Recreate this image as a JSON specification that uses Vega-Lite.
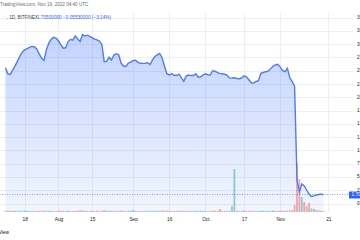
{
  "$schema": "https://vega.github.io/schema/vega-lite/v6.json",
  "width": 353,
  "height": 200,
  "autosize": {"type": "none"},
  "padding": {"top": 12, "left": 0, "right": 7, "bottom": 28},
  "background": "white",
  "config": {
    "view": {"stroke": null},
    "font": "Liberation Sans",
    "axis": {"gridColor": "#eceff5", "gridWidth": 1, "domain": false, "ticks": false, "tickSize": 0, "labelFontSize": 4.8, "labelColor": "#131722", "labelFont": "Liberation Sans", "labelFlush": false}
  },
  "title": {"text": "TradingView.com, Nov 19, 2022 04:40 UTC", "anchor": "start", "frame": "group", "fontSize": 4.6, "fontWeight": "normal", "color": "#6a6d78", "offset": 5.5, "font": "Liberation Sans"},
  "datasets": {
    "ftt": [
    {"d":"2022-07-10","p":25.56,"v":30,"dir":"up"},
    {"d":"2022-07-11","p":24.41,"v":35,"dir":"down"},
    {"d":"2022-07-12","p":24.31,"v":30,"dir":"down"},
    {"d":"2022-07-13","p":25.10,"v":30,"dir":"up"},
    {"d":"2022-07-14","p":25.91,"v":30,"dir":"up"},
    {"d":"2022-07-15","p":26.82,"v":35,"dir":"up"},
    {"d":"2022-07-16","p":27.76,"v":30,"dir":"up"},
    {"d":"2022-07-17","p":28.49,"v":30,"dir":"up"},
    {"d":"2022-07-18","p":28.95,"v":35,"dir":"up"},
    {"d":"2022-07-19","p":29.17,"v":30,"dir":"up"},
    {"d":"2022-07-20","p":29.40,"v":30,"dir":"up"},
    {"d":"2022-07-21","p":29.57,"v":25,"dir":"up"},
    {"d":"2022-07-22","p":29.53,"v":30,"dir":"down"},
    {"d":"2022-07-23","p":29.11,"v":25,"dir":"down"},
    {"d":"2022-07-24","p":28.17,"v":30,"dir":"down"},
    {"d":"2022-07-25","p":27.36,"v":35,"dir":"down"},
    {"d":"2022-07-26","p":26.93,"v":30,"dir":"down"},
    {"d":"2022-07-27","p":28.96,"v":35,"dir":"up"},
    {"d":"2022-07-28","p":30.19,"v":30,"dir":"up"},
    {"d":"2022-07-29","p":30.92,"v":30,"dir":"up"},
    {"d":"2022-07-30","p":31.28,"v":25,"dir":"up"},
    {"d":"2022-07-31","p":31.15,"v":25,"dir":"down"},
    {"d":"2022-08-01","p":30.64,"v":30,"dir":"down"},
    {"d":"2022-08-02","p":29.89,"v":35,"dir":"down"},
    {"d":"2022-08-03","p":29.25,"v":30,"dir":"down"},
    {"d":"2022-08-04","p":29.32,"v":25,"dir":"up"},
    {"d":"2022-08-05","p":30.49,"v":30,"dir":"up"},
    {"d":"2022-08-06","p":30.89,"v":25,"dir":"up"},
    {"d":"2022-08-07","p":30.75,"v":25,"dir":"down"},
    {"d":"2022-08-08","p":31.56,"v":30,"dir":"up"},
    {"d":"2022-08-09","p":30.98,"v":30,"dir":"down"},
    {"d":"2022-08-10","p":30.51,"v":45,"dir":"down"},
    {"d":"2022-08-11","p":31.81,"v":40,"dir":"up"},
    {"d":"2022-08-12","p":31.54,"v":30,"dir":"down"},
    {"d":"2022-08-13","p":31.70,"v":30,"dir":"up"},
    {"d":"2022-08-14","p":31.45,"v":25,"dir":"down"},
    {"d":"2022-08-15","p":31.24,"v":30,"dir":"down"},
    {"d":"2022-08-16","p":30.96,"v":25,"dir":"down"},
    {"d":"2022-08-17","p":30.81,"v":30,"dir":"down"},
    {"d":"2022-08-18","p":30.58,"v":25,"dir":"down"},
    {"d":"2022-08-19","p":30.00,"v":35,"dir":"down"},
    {"d":"2022-08-20","p":26.70,"v":45,"dir":"down"},
    {"d":"2022-08-21","p":26.75,"v":30,"dir":"up"},
    {"d":"2022-08-22","p":27.53,"v":30,"dir":"up"},
    {"d":"2022-08-23","p":27.01,"v":30,"dir":"down"},
    {"d":"2022-08-24","p":27.95,"v":30,"dir":"up"},
    {"d":"2022-08-25","p":28.21,"v":25,"dir":"up"},
    {"d":"2022-08-26","p":28.01,"v":30,"dir":"down"},
    {"d":"2022-08-27","p":26.42,"v":35,"dir":"down"},
    {"d":"2022-08-28","p":25.89,"v":30,"dir":"down"},
    {"d":"2022-08-29","p":25.80,"v":25,"dir":"down"},
    {"d":"2022-08-30","p":26.42,"v":30,"dir":"up"},
    {"d":"2022-08-31","p":26.61,"v":30,"dir":"up"},
    {"d":"2022-09-01","p":26.93,"v":50,"dir":"up"},
    {"d":"2022-09-02","p":26.99,"v":30,"dir":"up"},
    {"d":"2022-09-03","p":26.59,"v":25,"dir":"down"},
    {"d":"2022-09-04","p":26.40,"v":25,"dir":"down"},
    {"d":"2022-09-05","p":26.38,"v":25,"dir":"down"},
    {"d":"2022-09-06","p":26.42,"v":30,"dir":"up"},
    {"d":"2022-09-07","p":26.52,"v":30,"dir":"up"},
    {"d":"2022-09-08","p":26.18,"v":30,"dir":"down"},
    {"d":"2022-09-09","p":26.99,"v":30,"dir":"up"},
    {"d":"2022-09-10","p":27.70,"v":30,"dir":"up"},
    {"d":"2022-09-11","p":27.97,"v":25,"dir":"up"},
    {"d":"2022-09-12","p":28.25,"v":30,"dir":"up"},
    {"d":"2022-09-13","p":27.44,"v":35,"dir":"down"},
    {"d":"2022-09-14","p":25.89,"v":35,"dir":"down"},
    {"d":"2022-09-15","p":24.44,"v":30,"dir":"down"},
    {"d":"2022-09-16","p":24.20,"v":30,"dir":"down"},
    {"d":"2022-09-17","p":24.48,"v":25,"dir":"up"},
    {"d":"2022-09-18","p":24.14,"v":25,"dir":"down"},
    {"d":"2022-09-19","p":24.09,"v":30,"dir":"down"},
    {"d":"2022-09-20","p":24.35,"v":30,"dir":"up"},
    {"d":"2022-09-21","p":23.69,"v":30,"dir":"down"},
    {"d":"2022-09-22","p":23.01,"v":30,"dir":"down"},
    {"d":"2022-09-23","p":23.99,"v":30,"dir":"up"},
    {"d":"2022-09-24","p":24.18,"v":25,"dir":"up"},
    {"d":"2022-09-25","p":24.09,"v":25,"dir":"down"},
    {"d":"2022-09-26","p":24.11,"v":30,"dir":"up"},
    {"d":"2022-09-27","p":24.43,"v":30,"dir":"up"},
    {"d":"2022-09-28","p":23.79,"v":30,"dir":"down"},
    {"d":"2022-09-29","p":23.86,"v":30,"dir":"up"},
    {"d":"2022-09-30","p":24.22,"v":30,"dir":"up"},
    {"d":"2022-10-01","p":24.41,"v":25,"dir":"up"},
    {"d":"2022-10-02","p":24.24,"v":25,"dir":"down"},
    {"d":"2022-10-03","p":24.20,"v":30,"dir":"down"},
    {"d":"2022-10-04","p":25.01,"v":30,"dir":"up"},
    {"d":"2022-10-05","p":24.91,"v":30,"dir":"down"},
    {"d":"2022-10-06","p":24.65,"v":30,"dir":"down"},
    {"d":"2022-10-07","p":24.50,"v":75,"dir":"down"},
    {"d":"2022-10-08","p":24.43,"v":25,"dir":"down"},
    {"d":"2022-10-09","p":24.33,"v":25,"dir":"down"},
    {"d":"2022-10-10","p":24.14,"v":30,"dir":"down"},
    {"d":"2022-10-11","p":23.65,"v":30,"dir":"down"},
    {"d":"2022-10-12","p":23.61,"v":150,"dir":"up"},
    {"d":"2022-10-13","p":23.67,"v":1075,"dir":"up"},
    {"d":"2022-10-14","p":23.54,"v":35,"dir":"down"},
    {"d":"2022-10-15","p":23.50,"v":25,"dir":"down"},
    {"d":"2022-10-16","p":23.63,"v":30,"dir":"up"},
    {"d":"2022-10-17","p":24.05,"v":30,"dir":"up"},
    {"d":"2022-10-18","p":23.86,"v":30,"dir":"down"},
    {"d":"2022-10-19","p":23.30,"v":30,"dir":"down"},
    {"d":"2022-10-20","p":22.73,"v":30,"dir":"down"},
    {"d":"2022-10-21","p":22.67,"v":30,"dir":"down"},
    {"d":"2022-10-22","p":22.98,"v":25,"dir":"up"},
    {"d":"2022-10-23","p":23.11,"v":25,"dir":"up"},
    {"d":"2022-10-24","p":24.52,"v":35,"dir":"up"},
    {"d":"2022-10-25","p":24.67,"v":30,"dir":"up"},
    {"d":"2022-10-26","p":24.82,"v":30,"dir":"up"},
    {"d":"2022-10-27","p":24.92,"v":30,"dir":"up"},
    {"d":"2022-10-28","p":25.35,"v":30,"dir":"up"},
    {"d":"2022-10-29","p":25.84,"v":35,"dir":"up"},
    {"d":"2022-10-30","p":26.08,"v":30,"dir":"up"},
    {"d":"2022-10-31","p":26.21,"v":30,"dir":"up"},
    {"d":"2022-11-01","p":25.73,"v":30,"dir":"down"},
    {"d":"2022-11-02","p":25.07,"v":35,"dir":"down"},
    {"d":"2022-11-03","p":24.82,"v":30,"dir":"down"},
    {"d":"2022-11-04","p":25.46,"v":35,"dir":"up"},
    {"d":"2022-11-05","p":23.67,"v":40,"dir":"down"},
    {"d":"2022-11-06","p":22.96,"v":50,"dir":"down"},
    {"d":"2022-11-07","p":22.09,"v":175,"dir":"down"},
    {"d":"2022-11-08","p":4.43,"v":1225,"dir":"down"},
    {"d":"2022-11-09","p":2.22,"v":825,"dir":"down"},
    {"d":"2022-11-10","p":3.67,"v":375,"dir":"up"},
    {"d":"2022-11-11","p":3.30,"v":250,"dir":"down"},
    {"d":"2022-11-12","p":2.54,"v":150,"dir":"down"},
    {"d":"2022-11-13","p":1.79,"v":225,"dir":"down"},
    {"d":"2022-11-14","p":1.32,"v":90,"dir":"up"},
    {"d":"2022-11-15","p":1.45,"v":75,"dir":"up"},
    {"d":"2022-11-16","p":1.60,"v":50,"dir":"down"},
    {"d":"2022-11-17","p":1.69,"v":40,"dir":"down"},
    {"d":"2022-11-18","p":1.76,"v":30,"dir":"up"},
    {"d":"2022-11-19","p":1.705,"v":25,"dir":"down"}
    ],
    "one": [{"k": 1}]
  },
  "data": {"name": "ftt"},
  "layer": [
    {
      "mark": {"type": "area", "color": {"gradient": "linear", "x1": 0, "y1": 0, "x2": 0, "y2": 1, "stops": [{"offset": 0, "color": "rgba(41,98,255,0.28)"}, {"offset": 1, "color": "rgba(41,98,255,0.06)"}]}},
      "encoding": {
        "x": {"field": "d", "type": "temporal",
          "scale": {"type": "utc", "domain": [{"year": 2022, "month": 7, "date": 9, "hours": 19, "minutes": 40, "utc": true}, {"year": 2022, "month": 11, "date": 29, "hours": 3, "minutes": 50, "utc": true}]},
          "axis": {"grid": true, "labelPadding": 4.5,
            "values": [{"year": 2022, "month": 7, "date": 18, "utc": true}, {"year": 2022, "month": 8, "date": 1, "utc": true}, {"year": 2022, "month": 8, "date": 15, "utc": true}, {"year": 2022, "month": 9, "date": 1, "utc": true}, {"year": 2022, "month": 9, "date": 16, "utc": true}, {"year": 2022, "month": 10, "date": 1, "utc": true}, {"year": 2022, "month": 10, "date": 17, "utc": true}, {"year": 2022, "month": 11, "date": 1, "utc": true}, {"year": 2022, "month": 11, "date": 21, "utc": true}],
            "labelExpr": "utcdate(datum.value) == 1 ? utcFormat(datum.value, '%b') : utcFormat(datum.value, '%d')",
            "title": "TradingView", "titleFontSize": 4.8, "titleFontWeight": "normal", "titleColor": "#131722", "titleAnchor": "start", "titleAlign": "right", "titleX": 8.5, "titleY": 20, "titleBaseline": "middle"}},
        "y": {"field": "p", "type": "quantitative", "scale": {"domain": [-1.6, 36.06], "zero": false, "nice": false},
          "axis": {"orient": "right", "grid": true, "title": null, "labelPadding": 3.5, "format": ".4f", "values": [0, 2.5, 5, 7.5, 10, 12.5, 15, 17.5, 20, 22.5, 25, 27.5, 30, 32.5, 35]}},
        "y2": {"datum": -1.6}
      }
    },
    {
      "mark": {"type": "bar", "size": 1.8, "opacity": 0.5},
      "encoding": {
        "x": {"field": "d", "type": "temporal"},
        "y": {"field": "v", "type": "quantitative", "scale": {"domain": [0, 5000], "nice": false}, "axis": null},
        "color": {"field": "dir", "type": "nominal", "scale": {"domain": ["up", "down"], "range": ["#26a69a", "#ef5350"]}, "legend": null}
      }
    },
    {
      "layer": [
        {
          "mark": {"type": "line", "color": "#4d7cf4", "strokeWidth": 1.4},
          "encoding": {
            "x": {"field": "d", "type": "temporal"},
            "y": {"field": "p", "type": "quantitative", "scale": {"domain": [-1.6, 36.06], "zero": false, "nice": false}, "axis": null}
          }
        },
        {
          "data": {"name": "one"},
          "mark": {"type": "rule", "color": "#2962ff", "strokeDash": [1, 1.5], "opacity": 0.6, "strokeWidth": 1},
          "encoding": {"y": {"datum": 1.705, "type": "quantitative", "axis": null}}
        },
        {
          "data": {"name": "one"},
          "mark": {"type": "text", "align": "left", "baseline": "middle", "fontSize": 4.5, "color": "#3a3d47"},
          "encoding": {
            "x": {"datum": {"year": 2022, "month": 7, "date": 10, "hours": 12, "utc": true}, "type": "temporal"},
            "y": {"datum": 34.93, "type": "quantitative", "axis": null},
            "text": {"value": ", 1D, BITFINEX"}
          }
        },
        {
          "data": {"name": "one"},
          "mark": {"type": "text", "align": "left", "baseline": "middle", "fontSize": 4.7, "color": "#2962ff"},
          "encoding": {
            "x": {"datum": {"year": 2022, "month": 7, "date": 23, "hours": 2, "utc": true}, "type": "temporal"},
            "y": {"datum": 34.93, "type": "quantitative", "axis": null},
            "text": {"value": "1.70500000  \u22120.05530000 (\u22123.14%)"}
          }
        },
        {
          "data": {"name": "one"},
          "mark": {"type": "rect", "color": "#2962ff"},
          "encoding": {
            "x": {"datum": {"year": 2022, "month": 11, "date": 29, "hours": 13, "minutes": 27, "utc": true}, "type": "temporal"},
            "x2": {"datum": {"year": 2022, "month": 12, "date": 10, "utc": true}},
            "y": {"datum": 2.25, "type": "quantitative", "axis": null},
            "y2": {"datum": 0.95}
          }
        },
        {
          "data": {"name": "one"},
          "mark": {"type": "text", "align": "left", "baseline": "middle", "fontSize": 4.8, "color": "white"},
          "encoding": {
            "x": {"datum": {"year": 2022, "month": 11, "date": 30, "hours": 13, "minutes": 40, "utc": true}, "type": "temporal"},
            "y": {"datum": 1.6, "type": "quantitative", "axis": null},
            "text": {"value": "1.7050"}
          }
        }
      ]
    }
  ],
  "resolve": {"scale": {"y": "independent"}}
}
